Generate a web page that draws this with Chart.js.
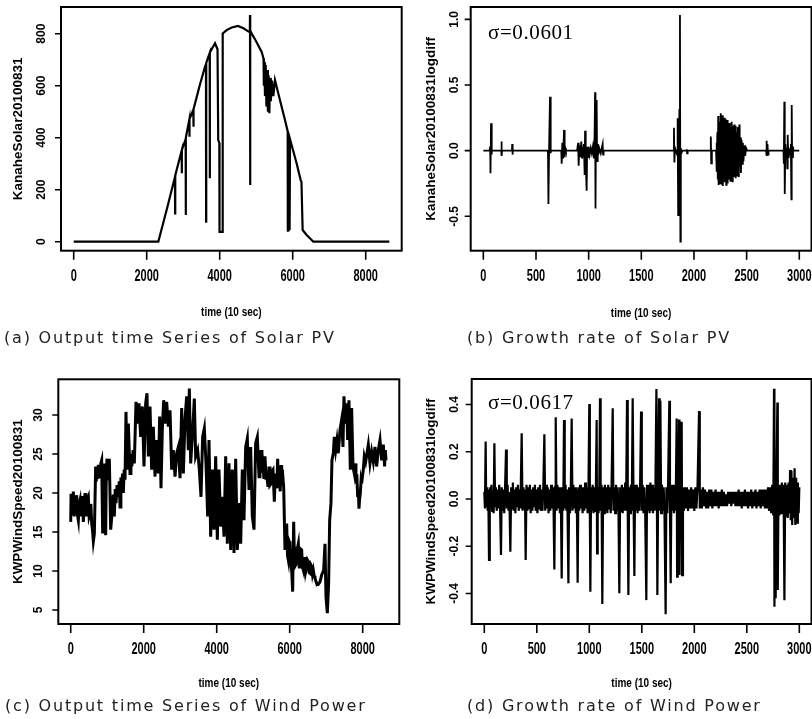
<!DOCTYPE html>
<html>
<head>
<meta charset="utf-8">
<script src="https://cdn.jsdelivr.net/npm/chart.js@4.4.1/dist/chart.umd.min.js"></script>
<style>
  body { margin: 0; background: #fff; }
  #fig { position: relative; width: 812px; height: 719px; overflow: hidden; background: #fff; }
  canvas { position: absolute; }
  .cap { position: absolute; font: 16px "DejaVu Sans", sans-serif; letter-spacing: 1.8px; white-space: pre; color: #222; line-height: 18px; }
  .sig { position: absolute; font: 21px "Liberation Serif", serif; letter-spacing: 0.6px; white-space: pre; color: #000; line-height: 24px; }
</style>
</head>
<body>
<div id="fig">
  <canvas id="panelA" width="406" height="330" style="left:0;top:0"></canvas>
  <canvas id="panelB" width="406" height="330" style="left:406px;top:0"></canvas>
  <canvas id="panelC" width="406" height="379" style="left:0;top:340px"></canvas>
  <canvas id="panelD" width="406" height="379" style="left:406px;top:340px"></canvas>
  <div class="cap" style="left:4px;top:329px">(a) Output time Series of Solar PV</div>
  <div class="cap" style="left:467px;top:329px">(b) Growth rate of Solar PV</div>
  <div class="cap" style="left:5px;top:697px">(c) Output time Series of Wind Power</div>
  <div class="cap" style="left:467px;top:697px">(d) Growth rate of Wind Power</div>
  <div class="sig" style="left:488px;top:20px">σ=0.0601</div>
  <div class="sig" style="left:488px;top:390px">σ=0.0617</div>
</div>

<script>
// Tick values / labels
const timeTicksLong = [0, 2000, 4000, 6000, 8000];
const timeTicksShort = [0, 500, 1000, 1500, 2000, 2500, 3000];
const solarTicks = [0, 200, 400, 600, 800];
const solarRateTicks = [-0.5, 0, 0.5, 1.0];
const solarRateLabels = ['-0.5', '0.0', '0.5', '1.0'];
const windTicks = [5, 10, 15, 20, 25, 30];
const windRateTicks = [-0.4, -0.2, 0, 0.2, 0.4];
const windRateLabels = ['-0.4', '-0.2', '0.0', '0.2', '0.4'];

// (a) KanaheSolar20100831 : [time, value]
const solarPV = [
  [0,0],[2318,0],[2560,130],[2775,250],[2778,109],[2782,255],[2958,350],[2961,263],[2965,352],
  [3067,395],[3070,103],[3074,400],[3168,470],[3171,404],[3175,472],[3277,507],[3281,442],[3285,510],
  [3450,600],[3597,673],[3624,682],[3627,77],[3631,688],[3725,726],[3728,244],[3732,728],
  [3871,763],[3940,740],[3960,391],[3990,380],[3995,38],[4075,38],[4082,801],[4200,815],[4330,824],
  [4500,830],[4650,821],[4790,808],[4826,806],[4830,872],[4834,218],[4838,812],[4880,800],[5000,770],
  [5150,730],[5200,705],[5210,600],[5225,690],[5240,560],[5260,680],[5280,520],[5300,660],[5320,500],
  [5340,640],[5360,494],[5380,630],[5400,540],[5430,620],[5470,560],[5514,622],[5650,545],[5788,468],
  [5862,425],[5866,38],[5880,300],[5890,40],[5905,380],[5915,45],[5926,395],[6108,301],[6218,237],
  [6240,230],[6272,45],[6382,26],[6565,0],[8647,0]
];

// (b) KanaheSolar20100831logdiff
const solarRate = [
  [0,0],[60,0],[65,0.03],[68,-0.172],[73,0.208],[77,-0.03],[82,0],[170,0],[172,0.069],[175,-0.04],[178,0],
  [272,0],[274,0.05],[277,-0.03],[280,0],[610,0],[614,-0.02],[618,-0.406],[625,0.05],[633,0.411],[637,-0.02],[642,0],
  [740,0],[744,-0.1],[750,0.06],[758,-0.06],[766,0.158],[772,-0.05],[778,0.02],[784,0],
  [890,0],[900,0.06],[905,-0.114],[912,0.04],[920,-0.05],[930,0.07],[938,-0.06],[955,0.05],[962,-0.185],
  [966,0.152],[972,-0.08],[981,-0.305],[986,0.03],[994,-0.05],[1000,0.03],[1010,-0.03],[1020,0.02],[1030,-0.02],
  [1040,0.03],[1050,-0.06],[1056,0.1],[1061,0.444],[1065,-0.44],[1070,0.2],[1076,0.386],[1080,-0.08],[1086,0.05],
  [1092,-0.03],[1100,0.02],[1115,-0.02],[1125,0.02],[1133,0.05],[1137,-0.03],[1142,0],
  [1805,0],[1810,0.175],[1814,-0.09],[1820,0.02],[1840,-0.03],[1845,0.246],[1850,-0.49],[1855,0.05],[1862,0.31],
  [1867,1.034],[1871,-0.693],[1875,0.02],[1880,-0.02],[1890,0],[1925,0],[1931,0.01],[1935,-0.02],[1940,0],
  [2155,0],[2160,0.107],[2164,-0.096],[2170,0],[2210,0],[2214,0.06],[2218,-0.16],[2222,0.14],[2226,-0.22],
  [2230,0.264],[2234,-0.262],[2238,0.2],[2242,-0.15],[2246,0.22],[2250,-0.25],[2254,0.284],[2258,-0.2],
  [2262,0.18],[2266,-0.26],[2270,0.27],[2274,-0.27],[2278,0.22],[2282,-0.18],[2286,0.25],[2290,-0.24],
  [2294,0.2],[2298,-0.22],[2302,0.24],[2306,-0.26],[2310,0.23],[2314,-0.2],[2318,0.234],[2322,-0.25],
  [2326,0.18],[2330,-0.22],[2334,0.21],[2338,-0.19],[2342,0.2],[2346,-0.23],[2350,0.16],[2354,-0.2],
  [2358,0.22],[2362,-0.198],[2366,0.19],[2370,-0.24],[2374,0.17],[2378,-0.2],[2382,0.2],[2386,-0.18],
  [2390,0.15],[2394,-0.21],[2398,0.19],[2402,-0.16],[2406,0.14],[2410,-0.19],[2414,0.18],[2418,-0.15],
  [2422,0.12],[2426,-0.2],[2430,0.2],[2434,-0.12],[2440,0.1],[2446,-0.17],[2452,0.08],[2458,-0.1],
  [2464,0.06],[2470,-0.08],[2478,0.04],[2486,-0.04],[2495,0.02],[2505,0],
  [2685,0],[2688,0.076],[2692,-0.04],[2698,0.05],[2703,-0.03],[2708,0],
  [2850,0],[2853,-0.1],[2858,0.373],[2862,-0.33],[2868,0.05],[2876,-0.05],[2882,0.02],[2886,-0.134],
  [2890,0.12],[2895,-0.05],[2900,0.02],[2912,-0.03],[2920,0.05],[2925,-0.37],[2928,0.348],[2932,-0.05],
  [2940,0.03],[2945,0],[3000,0]
];

// (c) KWPWindSpeed20100831
const windSpeed = [
  [0,16.3],[10,19.9],[27,18.7],[50,17.2],[72,20.2],[95,17.0],[118,17.8],[140,19.0],[164,19.7],[185,17.2],[209,16.5],
  [230,18.6],[255,19.1],[278,17.0],[301,18.2],[322,19.6],[346,16.3],[370,18.4],[392,20.0],[415,18.0],[438,17.0],
  [460,19.2],[483,19.5],[505,17.0],[529,17.4],[552,18.6],[575,16.1],[598,15.2],[620,13.8],[648,14.8],[684,23.4],
  [700,21.5],[721,23.0],[740,21.8],[757,23.6],[780,22.4],[803,22.1],[825,23.8],[848,24.2],[876,14.8],[895,22.0],
  [912,23.8],[935,20.5],[958,14.6],[975,22.8],[995,24.4],[1012,22.6],[1031,23.0],[1045,21.6],[1058,24.4],[1095,15.3],
  [1118,16.6],[1141,17.8],[1165,19.8],[1195,17.0],[1220,20.5],[1241,18.7],[1270,21.0],[1305,19.5],[1330,21.5],
  [1351,18.2],[1375,22.0],[1396,20.8],[1420,22.5],[1442,20.0],[1465,23.0],[1488,21.7],[1515,30.4],
  [1543,23.0],[1579,28.9],[1625,22.5],[1650,25.0],[1674,23.4],[1710,25.5],[1743,23.8],[1789,31.7],[1835,28.9],[1871,31.5],[1917,27.2],
  [1963,31.1],[2008,23.4],[2054,31.5],[2090,32.8],[2127,24.7],[2173,31.1],[2218,23.0],[2264,28.5],[2310,22.1],
  [2355,26.8],[2401,22.5],[2437,29.8],[2474,20.6],[2510,28.1],[2547,31.9],[2584,28.9],[2629,31.7],[2675,28.5],
  [2721,30.6],[2766,23.0],[2812,25.5],[2858,22.1],[2903,25.1],[2949,25.9],[2995,21.9],[3040,30.9],[3086,22.5],
  [3131,29.4],[3177,32.4],[3223,25.5],[3250,33.4],[3287,23.8],[3332,27.2],[3387,32.1],[3424,24.7],[3478,25.5],
  [3524,23.0],[3570,19.5],[3615,27.2],[3661,28.3],[3707,23.8],[3752,17.0],[3789,26.8],[3835,14.4],[3880,23.0],
  [3926,15.3],[3972,24.7],[4017,14.0],[4063,23.0],[4109,15.7],[4154,19.5],[4200,14.4],[4246,24.7],[4291,13.5],
  [4337,23.8],[4383,12.7],[4428,23.0],[4474,12.3],[4520,24.4],[4565,12.7],[4611,18.7],[4657,13.5],[4702,23.0],
  [4748,16.5],[4794,25.9],[4839,27.0],[4885,20.4],[4930,25.9],[4976,17.0],[5022,15.3],[5067,26.4],[5113,27.2],
  [5159,22.1],[5185,24.0],[5214,25.5],[5240,22.6],[5268,23.4],[5295,21.8],[5323,24.7],[5350,22.0],[5378,22.1],[5405,20.8],
  [5433,23.4],[5460,21.0],[5488,21.2],[5515,22.8],[5543,23.0],[5579,18.9],[5600,21.6],
  [5625,22.5],[5648,20.6],[5670,24.4],[5695,21.0],[5716,21.7],[5740,20.2],[5762,23.6],[5780,21.0],[5798,23.0],[5835,20.8],[5871,12.7],[5895,14.5],[5917,16.1],[5940,12.0],[5962,11.4],
  [5985,13.8],[6008,13.5],[6030,11.0],[6054,10.1],[6081,7.35],[6109,16.3],[6125,12.5],[6145,13.1],[6168,10.8],[6191,11.0],[6215,13.0],[6236,13.5],[6260,10.5],[6282,11.0],[6305,12.8],[6328,12.7],
  [6350,10.5],[6373,10.1],[6395,11.6],[6419,11.8],[6440,10.0],[6465,10.6],[6488,11.4],[6510,11.2],[6532,9.8],[6556,9.7],[6580,10.8],[6602,10.6],[6625,9.6],[6647,10.1],[6670,9.4],[6693,9.06],[6739,8.4],
  [6784,8.3],[6830,8.6],[6876,9.5],[6930,10.1],[6967,13.5],[6994,6.7],[7031,4.6],[7067,8.4],[7095,16.5],
  [7131,18.7],[7158,24.2],[7195,25.1],[7222,27.2],[7259,25.5],[7295,26.8],[7332,25.1],[7378,28.1],[7423,29.4],
  [7460,25.9],[7487,32.4],[7524,28.9],[7560,31.5],[7588,26.8],[7624,31.9],[7661,23.0],[7697,30.9],[7734,23.4],
  [7770,22.5],[7790,23.8],[7816,21.2],[7840,22.4],[7862,19.5],[7880,20.4],[7898,18.0],[7915,19.2],[7935,20.0],[7955,21.6],[7971,21.2],[7995,22.2],[8017,23.0],[8044,24.7],[8081,24.0],
  [8118,25.1],[8154,26.2],[8200,23.8],[8245,25.3],[8291,24.0],[8337,25.9],[8382,23.4],[8428,25.5],[8474,26.8],
  [8519,24.2],[8565,26.2],[8600,23.4],[8620,25.5],[8640,24.2]
];

// (d) KWPWindSpeed20100831logdiff
const windRate = [
  [0,0.03],[6,-0.04],[13,0.243],[18,-0.03],[25,0.05],[32,-0.05],[38,0.04],[45,-0.258],[52,0.05],[60,-0.04],
  [68,0.06],[75,-0.05],[82,0.03],[89,-0.06],[96,0.236],[103,-0.03],[110,0.05],[118,-0.05],[126,0.04],[134,-0.04],
  [142,0.06],[150,-0.03],[159,-0.237],[166,0.05],[174,-0.05],[182,0.04],[190,-0.06],[198,0.05],[207,0.21],[214,-0.04],
  [222,0.06],[230,-0.05],[238,0.03],[248,-0.223],[256,0.05],[264,-0.04],[272,0.07],[280,-0.05],[288,0.04],[296,-0.06],
  [304,0.05],[312,-0.03],[320,0.06],[328,-0.05],[336,0.04],[344,-0.04],[356,0.278],[364,-0.05],[372,0.05],[380,-0.04],
  [387,0.04],[394,-0.258],[402,0.06],[410,-0.05],[418,0.05],[426,-0.04],[434,0.06],[442,-0.06],[450,0.04],[458,-0.05],
  [466,0.05],[474,-0.03],[482,0.06],[490,-0.05],[498,0.04],[506,-0.06],[514,0.05],[522,-0.04],[530,0.06],[538,-0.05],
  [546,0.04],[554,-0.05],[562,0.05],[572,0.274],[580,-0.05],[588,0.06],[596,-0.04],[604,0.05],[612,-0.06],[620,0.04],
  [628,-0.05],[636,0.06],[644,-0.04],[652,0.05],[660,-0.05],[667,-0.298],[674,0.05],[680,0.346],[688,-0.05],[696,0.06],
  [704,-0.04],[712,0.05],[720,-0.06],[728,0.05],[737,-0.336],[744,0.05],[752,-0.05],[759,0.334],[766,-0.04],[774,0.06],
  [782,-0.05],[790,0.04],[801,-0.357],[808,0.05],[816,-0.06],[824,0.05],[832,0.341],[840,-0.05],[848,0.06],[856,-0.04],
  [864,0.05],[872,-0.06],[880,0.04],[889,-0.354],[896,0.05],[904,-0.05],[912,0.06],[920,-0.04],[928,0.05],[936,-0.06],
  [944,0.05],[952,-0.05],[960,0.07],[968,-0.04],[976,0.05],[984,-0.06],[992,0.05],[1000,0.402],[1005,-0.05],[1010,-0.392],
  [1017,0.05],[1024,-0.05],[1032,0.06],[1040,-0.06],[1048,0.05],[1056,-0.05],[1063,0.06],[1070,0.334],[1074,-0.23],[1080,0.05],
  [1088,-0.06],[1095,0.05],[1102,0.426],[1108,-0.05],[1116,0.06],[1124,-0.444],[1132,0.05],[1140,-0.06],[1148,0.06],[1156,-0.05],
  [1164,0.05],[1172,-0.06],[1180,0.06],[1188,-0.04],[1196,0.05],[1204,-0.06],[1212,0.06],[1223,0.384],[1230,-0.05],[1238,0.05],
  [1246,-0.06],[1254,0.06],[1262,-0.05],[1270,0.05],[1278,-0.06],[1286,-0.399],[1294,0.05],[1302,-0.05],[1310,0.06],[1318,-0.06],
  [1326,0.05],[1334,-0.05],[1342,0.07],[1350,-0.05],[1359,0.419],[1366,-0.05],[1372,-0.406],[1380,0.05],[1388,-0.06],[1396,0.06],
  [1404,-0.05],[1413,0.426],[1420,0.05],[1429,-0.326],[1436,0.06],[1444,-0.05],[1452,0.06],[1460,-0.06],[1468,0.05],[1476,-0.05],
  [1484,0.06],[1493,0.37],[1500,-0.05],[1508,0.06],[1516,-0.06],[1524,0.05],[1532,-0.05],[1543,-0.428],[1550,0.06],[1558,-0.05],
  [1566,0.06],[1574,-0.06],[1582,0.07],[1590,-0.05],[1598,0.06],[1606,-0.06],[1614,0.05],[1622,-0.05],[1630,0.06],[1639,0.466],
  [1648,-0.406],[1656,0.05],[1664,0.426],[1670,-0.05],[1677,0.416],[1684,-0.06],[1692,0.06],[1700,-0.05],[1708,0.05],[1716,-0.06],
  [1727,-0.488],[1734,0.05],[1742,-0.06],[1750,0.06],[1762,0.416],[1768,-0.05],[1775,-0.357],[1782,0.06],[1790,-0.05],[1798,0.06],
  [1806,-0.06],[1814,0.05],[1822,-0.05],[1832,0.341],[1836,-0.329],[1842,0.05],[1848,-0.05],[1855,0.337],[1859,-0.322],[1866,0.05],
  [1873,-0.05],[1880,0.327],[1884,-0.322],[1892,0.05],[1900,-0.05],[1910,0.05],[1920,-0.04],[1930,0.05],[1940,-0.05],[1950,0.04],
  [1960,-0.04],[1970,0.05],[1980,-0.04],[1990,0.04],[2000,-0.05],[2010,0.05],[2020,-0.04],[2030,0.04],[2045,0.372],[2052,-0.04],
  [2062,0.04],[2072,-0.04],[2082,0.05],[2092,-0.03],[2102,0.04],[2112,-0.04],[2122,0.03],[2132,-0.04],[2142,0.04],[2152,-0.03],
  [2162,0.04],[2172,-0.04],[2182,0.03],[2192,-0.03],[2202,0.04],[2212,-0.03],[2222,0.03],[2232,-0.04],[2242,0.03],[2252,-0.03],
  [2262,0.04],[2272,-0.03],[2282,0.03],[2292,-0.03],[2302,0.02],[2312,-0.03],[2322,0.03],[2332,-0.02],[2342,0.03],[2352,-0.03],
  [2362,0.03],[2372,-0.02],[2382,0.03],[2392,-0.03],[2402,0.03],[2412,-0.03],[2422,0.04],[2432,-0.03],[2442,0.03],[2452,-0.04],
  [2462,0.03],[2472,-0.03],[2482,0.04],[2492,-0.03],[2502,0.03],[2512,-0.04],[2522,0.03],[2532,-0.03],[2542,0.04],[2552,-0.04],
  [2562,0.03],[2572,-0.03],[2582,0.04],[2592,-0.04],[2602,0.03],[2612,-0.03],[2622,0.04],[2632,-0.04],[2642,0.04],[2652,-0.03],
  [2662,0.04],[2672,-0.04],[2682,0.04],[2692,-0.04],[2702,0.05],[2712,-0.05],[2722,0.05],[2732,-0.06],[2742,0.06],[2752,-0.07],
  [2759,0.467],[2763,-0.456],[2770,0.05],[2775,-0.42],[2782,0.08],[2791,0.409],[2795,-0.385],[2802,0.06],[2810,-0.07],[2818,0.06],
  [2826,-0.06],[2834,0.07],[2842,-0.06],[2850,0.06],[2858,-0.428],[2866,0.07],[2874,-0.07],[2882,0.06],[2890,-0.08],[2898,0.07],
  [2906,-0.06],[2912,0.123],[2918,-0.09],[2925,0.12],[2932,-0.11],[2940,0.09],[2947,-0.08],[2955,0.13],[2962,-0.11],[2970,0.09],
  [2978,-0.1],[2986,0.07],[2994,-0.06],[3000,0.05]
];

// R-style box, ticks and labels, placed with the chart's own scales
const rAxes = {
  id: 'rAxes',
  afterDraw(chart, args, o) {
    const ctx = chart.ctx;
    const a = chart.chartArea;
    const xs = chart.scales.x;
    const ys = chart.scales.y;
    ctx.save();
    ctx.strokeStyle = '#000';
    ctx.lineWidth = 2;
    ctx.strokeRect(a.left, a.top, a.right - a.left, a.bottom - a.top);

    // tick marks
    ctx.lineWidth = 1.6;
    ctx.beginPath();
    o.xTicks.forEach(v => {
      const px = xs.getPixelForValue(v);
      ctx.moveTo(px, a.bottom);
      ctx.lineTo(px, a.bottom + 9);
    });
    o.yTicks.forEach(v => {
      const py = ys.getPixelForValue(v);
      ctx.moveTo(a.left, py);
      ctx.lineTo(a.left - 6, py);
    });
    ctx.stroke();

    ctx.fillStyle = '#000';
    ctx.textAlign = 'center';
    ctx.textBaseline = 'middle';

    // x tick labels (tall, narrow look of the scan)
    ctx.font = 'bold 11px "Liberation Sans", Arial, sans-serif';
    o.xTicks.forEach((v, i) => {
      ctx.save();
      ctx.translate(xs.getPixelForValue(v), a.bottom + 26);
      ctx.scale(1, 1.45);
      ctx.fillText(o.xLabels[i], 0, 0);
      ctx.restore();
    });

    // y tick labels, rotated like R's default
    ctx.font = 'bold 12px "Liberation Sans", Arial, sans-serif';
    o.yTicks.forEach((v, i) => {
      ctx.save();
      ctx.translate(a.left - o.yLabDx, ys.getPixelForValue(v));
      ctx.rotate(-Math.PI / 2);
      ctx.fillText(o.yLabels[i], 0, 0);
      ctx.restore();
    });

    // axis titles
    ctx.save();
    ctx.font = 'bold 10px "Liberation Sans", Arial, sans-serif';
    ctx.translate((a.left + a.right) / 2, a.bottom + o.xTitleDy);
    ctx.scale(1, 1.3);
    ctx.fillText('time (10 sec)', 0, 0);
    ctx.restore();

    ctx.save();
    ctx.font = 'bold 13.5px "Liberation Sans", Arial, sans-serif';
    ctx.translate(a.left - o.yTitleDx, (a.top + a.bottom) / 2);
    ctx.rotate(-Math.PI / 2);
    ctx.fillText(o.yTitle, 0, 0);
    ctx.restore();

    ctx.restore();
  }
};

function makePanel(id, pts, lineWidth, pad, xRange, yRange, axisOpts) {
  return new Chart(document.getElementById(id), {
    type: 'line',
    data: {
      datasets: [{
        data: pts.map(p => ({ x: p[0], y: p[1] })),
        borderColor: '#000',
        borderWidth: lineWidth,
        pointRadius: 0,
        tension: 0,
        fill: false
      }]
    },
    options: {
      responsive: false,
      animation: false,
      layout: { padding: pad },
      scales: {
        x: { type: 'linear', min: xRange[0], max: xRange[1], display: false },
        y: { type: 'linear', min: yRange[0], max: yRange[1], display: false }
      },
      plugins: {
        legend: { display: false },
        tooltip: { enabled: false },
        rAxes: axisOpts
      }
    },
    plugins: [rAxes]
  });
}

makePanel('panelA', solarPV, 2.2,
  { left: 61, top: 7, right: 4.3, bottom: 79.3 }, [-348, 8986], [-34.6, 902.7],
  { xTicks: timeTicksLong, xLabels: timeTicksLong.map(String), yTicks: solarTicks, yLabels: solarTicks.map(String),
    yTitle: 'KanaheSolar20100831', yLabDx: 19.3, yTitleDx: 42.7, xTitleDy: 62 });

makePanel('panelB', solarRate, 1.8,
  { left: 64.7, top: 7, right: 0.5, bottom: 79.3 }, [-120, 3116], [-0.762, 1.094],
  { xTicks: timeTicksShort, xLabels: timeTicksShort.map(String), yTicks: solarRateTicks, yLabels: solarRateLabels,
    yTitle: 'KanaheSolar20100831logdiff', yLabDx: 15.7, yTitleDx: 39, xTitleDy: 62.3 });

makePanel('panelC', windSpeed, 3,
  { left: 58.3, top: 39.3, right: 6.7, bottom: 95 }, [-340, 9003], [3.205, 34.58],
  { xTicks: timeTicksLong, xLabels: timeTicksLong.map(String), yTicks: windTicks, yLabels: windTicks.map(String),
    yTitle: 'KWPWindSpeed20100831', yLabDx: 19.3, yTitleDx: 40, xTitleDy: 59.3 });

makePanel('panelD', windRate, 2.2,
  { left: 65.7, top: 39, right: 0.5, bottom: 95 }, [-120, 3116], [-0.529, 0.508],
  { xTicks: timeTicksShort, xLabels: timeTicksShort.map(String), yTicks: windRateTicks, yLabels: windRateLabels,
    yTitle: 'KWPWindSpeed20100831logdiff', yLabDx: 16.7, yTitleDx: 40, xTitleDy: 59.3 });
</script>
</body>
</html>
